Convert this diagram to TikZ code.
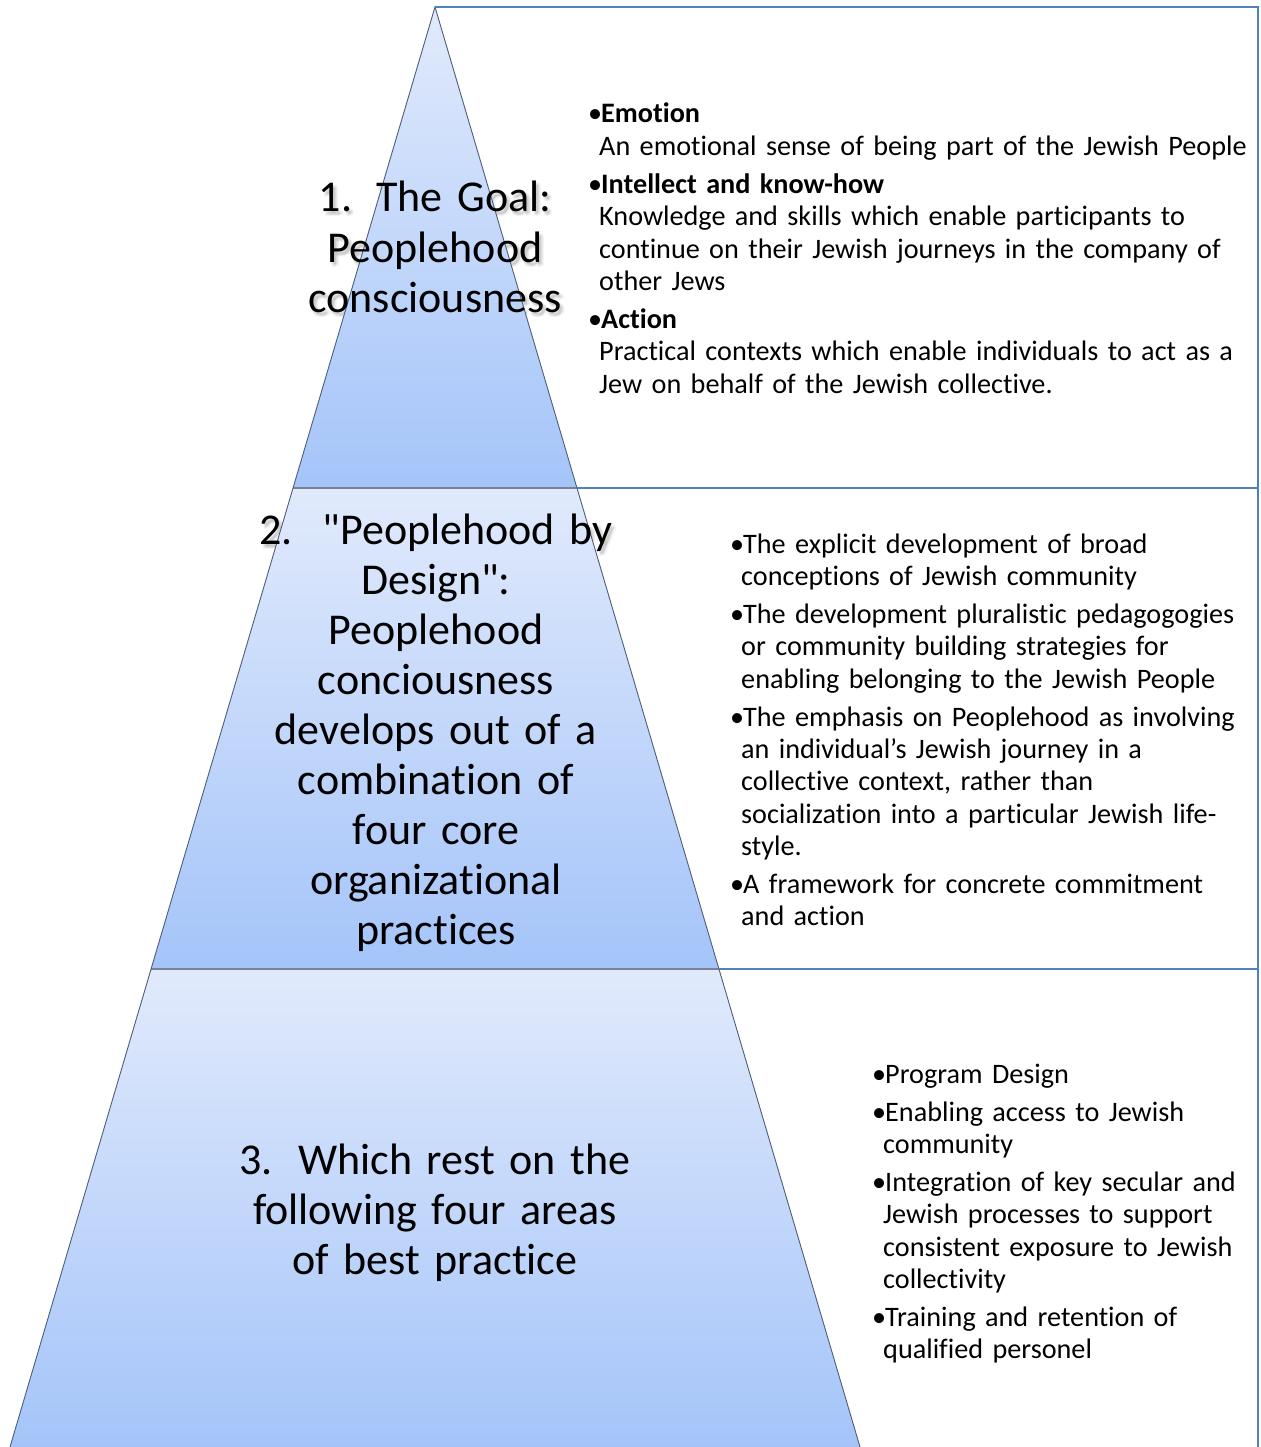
\documentclass[tikz,border=0pt]{standalone}
\usepackage{fontspec}
\setmainfont{Carlito}[Ligatures={NoCommon,TeXOff}]
\definecolor{tierTop}{RGB}{225,234,252}
\definecolor{tierBot}{RGB}{164,196,249}
\definecolor{boxBlue}{RGB}{79,129,189}
\definecolor{edgeGrey}{RGB}{78,94,120}
\definecolor{sepGrey}{RGB}{120,130,145}
% bullet lead-in and hanging indent for the list lines
\newcommand\bul{\makebox[13bp][l]{•}}
\newcommand\cont{\hspace*{11bp}}
\newcommand\itemgap{\\[5.8bp]}
\begin{document}
\begin{tikzpicture}[x=1bp,y=-1bp,
  boxline/.style={draw=boxBlue, line width=2.2bp},
  tieredge/.style={draw=edgeGrey, line width=0.9bp},
  tiersep/.style={draw=sepGrey, line width=1.2bp},
  tierfill/.style={top color=tierTop, bottom color=tierBot, draw=none},
  bigtext/.style={font=\fontsize{44bp}{50bp}\selectfont, text width=440bp,
    align=center, inner sep=0pt, anchor=base},
  listtext/.style={font=\fontsize{28.2bp}{32.3bp}\selectfont, text width=680bp,
    align=left, inner sep=0pt, anchor=base west},
  shadowtext/.style={bigtext, text=black, text opacity=0.045},
]
\useasboundingbox (0,0) rectangle (1260,1447);
\fill[white] (0,0) rectangle (1260,1447);

% corner points of the pyramid and its tiers
\coordinate (apex) at (435,7);
\coordinate (l1) at (293,488);   \coordinate (r1) at (577,488);
\coordinate (l2) at (151,969);   \coordinate (r2) at (719,969);
\coordinate (l3) at (10,1447);   \coordinate (r3) at (860,1447);
% corner points of the frame on the right
\coordinate (ftr) at (1258,7);
\coordinate (fm1) at (1258,488);
\coordinate (fm2) at (1258,969);
\coordinate (fbr) at (1258,1447);

% soft drop shadows of the tier captions (hidden by the fill inside the pyramid)
\foreach \dx/\dy in {1/2,2/4,4/2,3/3,5/4,2/5}{
  \node[shadowtext] (shA\dx\dy) at (435+\dx,212+\dy)
    {1.\hspace*{24bp}The Goal:\\Peoplehood\\consciousness};
  \node[shadowtext] (shB\dx\dy) at (436+\dx,544+\dy)
    {2.\hspace*{30bp}"Peoplehood by};
}

% shaded tiers
\shade[tierfill] (apex) -- (r1) -- (l1) -- cycle;
\shade[tierfill] (l1) -- (r1) -- (r2) -- (l2) -- cycle;
\shade[tierfill] (l2) -- (r2) -- (r3) -- (l3) -- cycle;

% tier separators and outline
\draw[tiersep] (l1) -- (r1);
\draw[tiersep] (l2) -- (r2);
\draw[tieredge] (l3) -- (apex) -- (r3);

% frame on the right
\draw[boxline] (apex) -- (ftr) -- (fbr);
\draw[boxline] (r1) -- (fm1);
\draw[boxline] (r2) -- (fm2);

% tier captions
\node[bigtext] (cap1) at (435,212)
  {1.\hspace*{24bp}The Goal:\\Peoplehood\\consciousness};
\node[bigtext] (cap2) at (436,544)
  {2.\hspace*{30bp}"Peoplehood by\\Design":\\Peoplehood\\conciousness\\develops out of a\\combination of\\four core\\organizational\\practices};
\node[bigtext] (cap3) at (435,1174)
  {3.\hspace*{25bp}Which rest on the\\following four areas\\of best practice};

% explanatory lists
\node[listtext] (list1) at (588,123) {%
\bul\textbf{Emotion}\\
\cont An emotional sense of being part of the Jewish People\itemgap
\bul\textbf{Intellect and know-how}\\
\cont Knowledge and skills which enable participants to\\
\cont continue on their Jewish journeys in the company of\\
\cont other Jews\itemgap
\bul\textbf{Action}\\
\cont Practical contexts which enable individuals to act as a\\
\cont Jew on behalf of the Jewish collective.};

\node[listtext] (list2) at (730,553) {%
\bul The explicit development of broad\\
\cont conceptions of Jewish community\itemgap
\bul The development pluralistic pedagogogies\\
\cont or community building strategies for\\
\cont enabling belonging to the Jewish People\itemgap
\bul The emphasis on Peoplehood as involving\\
\cont an individual’s Jewish journey in a\\
\cont collective context, rather than\\
\cont socialization into a particular Jewish life-\\
\cont style.\itemgap
\bul A framework for concrete commitment\\
\cont and action};

\node[listtext] (list3) at (872,1083) {%
\bul Program Design\itemgap
\bul Enabling access to Jewish\\
\cont community\itemgap
\bul Integration of key secular and\\
\cont Jewish processes to support\\
\cont consistent exposure to Jewish\\
\cont collectivity\itemgap
\bul Training and retention of\\
\cont qualified personel};
\end{tikzpicture}
\end{document}
